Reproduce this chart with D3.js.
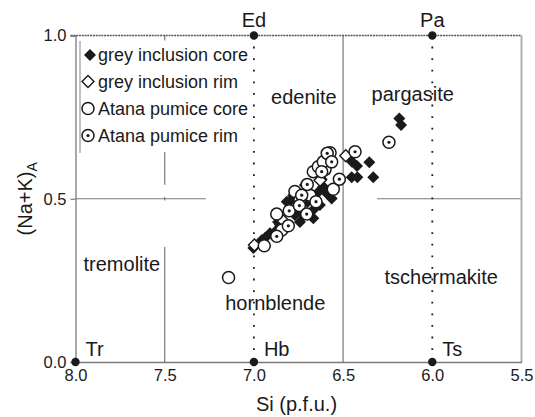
<!DOCTYPE html>
<html>
<head>
<meta charset="utf-8">
<script src="https://cdn.jsdelivr.net/npm/d3@7/dist/d3.min.js"></script>
<style>
  html, body { margin: 0; padding: 0; background: #fff; }
  svg { display: block; font-family: "Liberation Sans", Arial, Helvetica, sans-serif; }
</style>
</head>
<body>
<svg id="chart" width="535" height="417"></svg>
<script>
// Amphibole classification: Si (p.f.u.) versus (Na+K) on the A site

// Tick values
const xTicks = [8.0, 7.5, 7.0, 6.5, 6.0, 5.5];
const yTicks = [0.0, 0.5, 1.0];

// End-member compositions [Si, (Na+K)A, label]
const endMembers = [
  [8.0, 0.0, "Tr"], [7.0, 0.0, "Hb"], [6.0, 0.0, "Ts"],
  [7.0, 1.0, "Ed"], [6.0, 1.0, "Pa"]
];

// Field names [Si, (Na+K)A, name]
const fieldNames = [
  [6.72, 0.79, "edenite"], [6.11, 0.80, "pargasite"],
  [7.74, 0.28, "tremolite"], [6.88, 0.16, "hornblende"],
  [5.95, 0.24, "tschermakite"]
];

// Analyses: [Si, (Na+K)A]
const greyCore = [
  [6.185, 0.746], [6.175, 0.726], [6.450, 0.613], [6.422, 0.600],
  [6.353, 0.612], [6.452, 0.566], [6.420, 0.566], [6.331, 0.566],
  [6.564, 0.501], [6.583, 0.522], [6.611, 0.537], [6.592, 0.517],
  [6.798, 0.491], [6.816, 0.491], [6.667, 0.440], [6.910, 0.394],
  [7.003, 0.349], [6.742, 0.466], [6.854, 0.420], [6.686, 0.511],
  [6.630, 0.481], [6.770, 0.450], [6.955, 0.374], [6.714, 0.542],
  [6.742, 0.429], [6.865, 0.429], [6.938, 0.380], [6.620, 0.560],
  [6.800, 0.470], [6.780, 0.510], [6.700, 0.490], [6.640, 0.520],
  [6.880, 0.400], [6.960, 0.360], [6.720, 0.450], [6.660, 0.470]
];
const greyRim = [
  [6.485, 0.632], [6.629, 0.557], [6.835, 0.432], [6.997, 0.358],
  [6.760, 0.480]
];
const atanaCore = [
  [7.142, 0.259], [6.942, 0.356], [6.872, 0.453], [6.844, 0.404],
  [6.770, 0.522], [6.742, 0.496], [6.667, 0.583], [6.639, 0.598],
  [6.601, 0.590], [6.611, 0.613], [6.555, 0.529], [6.573, 0.641],
  [6.686, 0.511]
];
const atanaRim = [
  [6.243, 0.673], [6.433, 0.644], [6.589, 0.639], [6.564, 0.613],
  [6.521, 0.560], [6.701, 0.544], [6.732, 0.511], [6.652, 0.491],
  [6.802, 0.463], [6.745, 0.479], [6.704, 0.453], [6.807, 0.417],
  [6.872, 0.385], [6.620, 0.583]
];

const legendItems = ["grey inclusion core", "grey inclusion rim", "Atana pumice core", "Atana pumice rim"];

const svg = d3.select("#chart");
const plotLeft = 75.5, plotRight = 521.5, plotTop = 35.5, plotBottom = 362;

const x = d3.scaleLinear().domain([8.0, 5.5]).range([plotLeft, plotRight]);
const y = d3.scaleLinear().domain([0, 1]).range([plotBottom, plotTop]);

const lineGrey = "#7a7a7a";
const ink = "#1a1a1a";

const g = svg.append("g");

// Field boundaries (segments in data units)
const segments = [
  // Si = 6.5 divider
  { x1: 6.5, y1: 0, x2: 6.5, y2: 1, c: lineGrey, w: 1.2 },
  // Si = 7.5 divider pieces
  { x1: 7.5, y1: 1, x2: 7.5, y2: 0.985, c: lineGrey, w: 1.2 },
  { x1: 7.5, y1: 0.643, x2: 7.5, y2: 0.543, c: lineGrey, w: 1.2 },
  { x1: 7.5, y1: 0.505, x2: 7.5, y2: 0.495, c: lineGrey, w: 1.2 },
  { x1: 7.5, y1: 0.352, x2: 7.5, y2: 0, c: lineGrey, w: 1.2 },
  // (Na+K)A = 0.5 divider pieces
  { x1: 8.0, y1: 0.5, x2: 7.27, y2: 0.5, c: lineGrey, w: 1.2 },
  { x1: 6.31, y1: 0.5, x2: 5.5, y2: 0.5, c: lineGrey, w: 1.2 },
  // right border
  { x1: 5.5, y1: 0, x2: 5.5, y2: 1, c: "#b0b0b0", w: 2 }
];
g.selectAll("line.seg").data(segments).join("line")
  .attr("class", "seg")
  .attr("x1", d => x(d.x1)).attr("y1", d => y(d.y1))
  .attr("x2", d => x(d.x2)).attr("y2", d => y(d.y2))
  .attr("stroke", d => d.c).attr("stroke-width", d => d.w);

// top boundary (Na+K)A = 1
g.append("line")
  .attr("x1", x(8.0) - 5).attr("x2", x(5.5))
  .attr("y1", y(1)).attr("y2", y(1))
  .attr("stroke", "#555").attr("stroke-width", 1.4)
  .attr("stroke-dasharray", "2,0.8");

// dotted lines Hb-Ed and Ts-Pa
[7.0, 6.0].forEach(s => {
  g.append("line")
    .attr("x1", x(s)).attr("x2", x(s))
    .attr("y1", y(0) - 12).attr("y2", y(1))
    .attr("stroke", ink).attr("stroke-width", 1.8)
    .attr("stroke-dasharray", "1.8,9.8");
});

// axes
const xAxis = d3.axisBottom(x).tickValues(xTicks).tickFormat(d3.format(".1f")).tickSize(0).tickPadding(7);
const xg = svg.append("g").attr("transform", `translate(0,${plotBottom})`).call(xAxis);
xg.select(".domain").attr("stroke", lineGrey).attr("stroke-width", 1.3);
xg.selectAll("text").attr("font-size", 16.5).attr("fill", ink).attr("font-family", "Liberation Sans, Arial, sans-serif");

const yAxis = d3.axisLeft(y).tickValues(yTicks).tickFormat(d3.format(".1f")).tickSize(5).tickPadding(4);
const yg = svg.append("g").attr("transform", `translate(${plotLeft},0)`).call(yAxis);
yg.select(".domain").attr("stroke", lineGrey).attr("stroke-width", 1.3);
yg.selectAll(".tick line").attr("stroke", lineGrey).attr("stroke-width", 1.2);
yg.selectAll("text").attr("font-size", 16.5).attr("fill", ink).attr("font-family", "Liberation Sans, Arial, sans-serif");

// legend frame piece
svg.append("line")
  .attr("x1", 80).attr("x2", 80).attr("y1", 41).attr("y2", 153)
  .attr("stroke", "#999").attr("stroke-width", 1.2);

// end-member dots and labels
svg.selectAll("circle.em").data(endMembers).join("circle")
  .attr("class", "em")
  .attr("cx", d => x(d[0])).attr("cy", d => y(d[1])).attr("r", 4.2)
  .attr("fill", ink);
svg.selectAll("text.em").data(endMembers).join("text")
  .attr("class", "em")
  .attr("x", d => d[1] === 0 ? x(d[0]) + 10 : x(d[0]))
  .attr("y", d => d[1] === 0 ? y(d[1]) - 6 : y(d[1]) - 9)
  .attr("text-anchor", d => d[1] === 0 ? "start" : "middle")
  .attr("font-size", 20).attr("fill", ink)
  .text(d => d[2]);

// field names
svg.selectAll("text.field").data(fieldNames).join("text")
  .attr("class", "field")
  .attr("x", d => x(d[0])).attr("y", d => y(d[1]))
  .attr("text-anchor", "middle")
  .attr("font-size", 20).attr("fill", ink)
  .text(d => d[2]);

// marker shapes
const diamond = (s) => `M0,${-s}L${s},0L0,${s}L${-s},0Z`;
const R = 6;

function drawFilledDiamonds(sel, data) {
  sel.selectAll(null).data(data).join("path")
    .attr("transform", d => `translate(${x(d[0])},${y(d[1])})`)
    .attr("d", diamond(R)).attr("fill", ink);
}
function drawOpenDiamonds(sel, data) {
  sel.selectAll(null).data(data).join("path")
    .attr("transform", d => `translate(${x(d[0])},${y(d[1])})`)
    .attr("d", diamond(R)).attr("fill", "#fff").attr("stroke", ink).attr("stroke-width", 1.4);
}
function drawOpenCircles(sel, data) {
  sel.selectAll(null).data(data).join("circle")
    .attr("cx", d => x(d[0])).attr("cy", d => y(d[1])).attr("r", R)
    .attr("fill", "#fff").attr("stroke", ink).attr("stroke-width", 1.5);
}
function drawDotCircles(sel, data) {
  const gg = sel.selectAll(null).data(data).join("g")
    .attr("transform", d => `translate(${x(d[0])},${y(d[1])})`);
  gg.append("circle").attr("r", R).attr("fill", "#fff").attr("stroke", ink).attr("stroke-width", 1.5);
  gg.append("circle").attr("r", 1.6).attr("fill", ink);
}

const pts = svg.append("g");
drawFilledDiamonds(pts.append("g"), greyCore);
drawOpenDiamonds(pts.append("g"), greyRim);
drawOpenCircles(pts.append("g"), atanaCore);
drawDotCircles(pts.append("g"), atanaRim);

// legend
const legendY = [55, 81.5, 108.5, 135.5];
const lg = svg.append("g");
drawFilledDiamonds(lg.append("g"), [[x.invert(90), y.invert(legendY[0])]]);
drawOpenDiamonds(lg.append("g"), [[x.invert(88), y.invert(legendY[1])]]);
drawOpenCircles(lg.append("g"), [[x.invert(88), y.invert(legendY[2])]]);
drawDotCircles(lg.append("g"), [[x.invert(88), y.invert(legendY[3])]]);
lg.selectAll("text").data(legendItems).join("text")
  .attr("x", 98).attr("y", (d, i) => legendY[i] + 6)
  .attr("font-size", 18).attr("fill", ink)
  .text(d => d);

// axis titles
svg.append("text")
  .attr("x", (plotLeft + plotRight) / 2 - 2).attr("y", 411)
  .attr("text-anchor", "middle").attr("font-size", 20).attr("fill", ink)
  .text("Si (p.f.u.)");

const yt = svg.append("text")
  .attr("transform", `translate(32,${y(0.5)}) rotate(-90)`)
  .attr("text-anchor", "middle").attr("font-size", 20).attr("fill", ink);
yt.append("tspan").text("(Na+K)");
yt.append("tspan").attr("font-size", 14).attr("dy", 5).text("A");
</script>
</body>
</html>
